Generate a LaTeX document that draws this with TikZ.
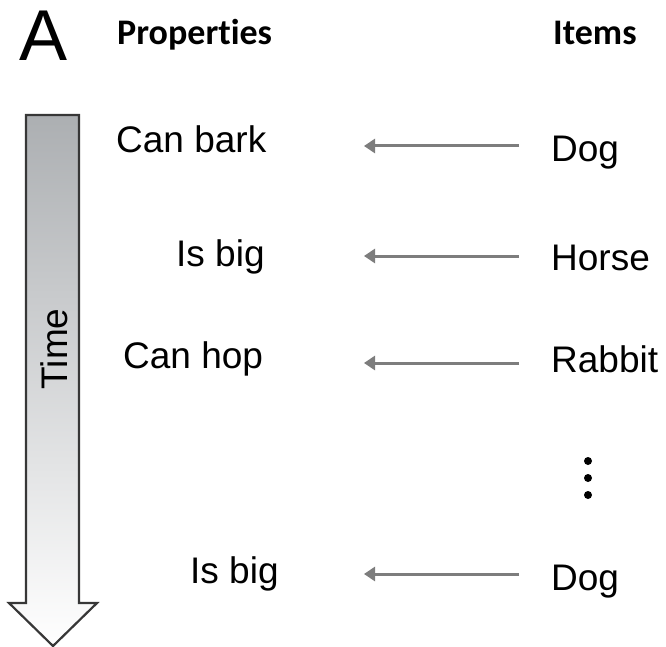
\documentclass[tikz,border=0pt]{standalone}
\usepackage{fontspec}
\setmainfont{Liberation Sans}
\newfontfamily\headfont[Ligatures=NoCommon]{Carlito}
\usetikzlibrary{arrows.meta}
\definecolor{arrowgray}{RGB}{125,125,125}
\definecolor{outlinegray}{RGB}{55,55,55}
\definecolor{shafttop}{RGB}{172,175,178}
\tikzset{
  lbl/.style={inner sep=0pt, anchor=base west, font=\fontsize{37}{40}\selectfont},
  head/.style={inner sep=0pt, anchor=base west, font=\headfont\bfseries\fontsize{36}{40}\selectfont},
  itemarrow/.style={draw=arrowgray, line width=3pt, -{Triangle[length=11pt,width=14pt]}},
  dotmark/.style={circle, fill=black, inner sep=0pt, minimum size=8pt}
}
\begin{document}
\begin{tikzpicture}[x=1pt,y=-1pt]
\useasboundingbox (0,0) rectangle (666,647);
% Panel letter and headings
\node[inner sep=0pt, anchor=base west, font=\fontsize{72}{72}\selectfont] (letter) at (19,61) {A};
\node[head] (props) at (117,45) {Properties};
\node[head] (items) at (553,45) {Items};
% Time arrow
\path[draw=outlinegray, line width=2.2pt, line join=miter, top color=shafttop, bottom color=white]
  (26,115) -- (79,115) -- (79,603) -- (97,603) -- (53,646) -- (9,603) -- (26,603) -- cycle;
\node[rotate=90, inner sep=0pt, font=\fontsize{37}{40}\selectfont] (time) at (54,349) {Time};
% Properties
\node[lbl] (p1) at (116,153) {Can bark};
\node[lbl] (p2) at (176,266) {Is big};
\node[lbl] (p3) at (123,368) {Can hop};
\node[lbl] (p4) at (190,583) {Is big};
% Items
\node[lbl] (i1) at (551,162) {Dog};
\node[lbl] (i2) at (551,270) {Horse};
\node[lbl] (i3) at (551,372) {Rabbit};
\node[lbl] (i4) at (551,590) {Dog};
% Arrow end points
\coordinate (s1) at (519,146); \coordinate (t1) at (364,146);
\coordinate (s2) at (519,256); \coordinate (t2) at (364,256);
\coordinate (s3) at (519,363); \coordinate (t3) at (364,363);
\coordinate (s4) at (519,574); \coordinate (t4) at (364,574);
\draw[itemarrow] (s1) -- (t1);
\draw[itemarrow] (s2) -- (t2);
\draw[itemarrow] (s3) -- (t3);
\draw[itemarrow] (s4) -- (t4);
% Vertical ellipsis
\node[dotmark] (d1) at (588,461) {};
\node[dotmark] (d2) at (588,478) {};
\node[dotmark] (d3) at (588,495) {};
\end{tikzpicture}
\end{document}
